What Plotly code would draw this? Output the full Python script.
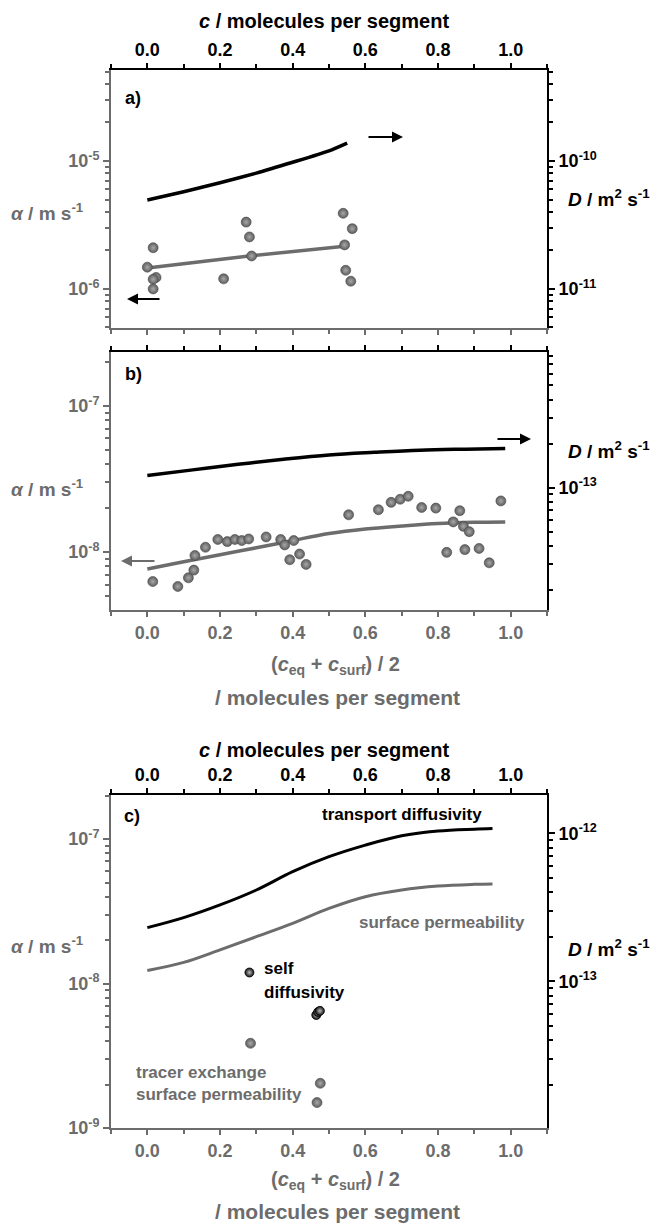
import math
import plotly.graph_objects as go

W, H = 659, 1225

# ---------------- data ----------------
# panel a
a_line_c = [0.0, 0.1, 0.2, 0.3, 0.4, 0.5, 0.55]
a_D = [4.95e-11, 5.75e-11, 6.76e-11, 8.04e-11, 9.77e-11, 1.20e-10, 1.38e-10]
a_fit_c = [0.0, 0.28, 0.55]
a_fit_alpha = [1.46e-6, 1.81e-6, 2.17e-6]
a_pts_c = [0.0, 0.016, 0.024, 0.016, 0.016, 0.21, 0.272, 0.281, 0.287,
           0.539, 0.564, 0.543, 0.546, 0.560]
a_pts_alpha = [1.48e-6, 2.10e-6, 1.23e-6, 1.19e-6, 1.00e-6, 1.20e-6, 3.33e-6,
               2.55e-6, 1.81e-6, 3.90e-6, 2.96e-6, 2.21e-6, 1.40e-6, 1.15e-6]

# panel b
b_line_c = [0.0, 0.125, 0.25, 0.375, 0.5, 0.625, 0.75, 0.875, 0.985]
b_D = [1.21e-13, 1.32e-13, 1.44e-13, 1.56e-13, 1.67e-13, 1.74e-13, 1.80e-13,
       1.83e-13, 1.85e-13]
b_fit_c = [0.0, 0.1, 0.2, 0.3, 0.4, 0.5, 0.6, 0.7, 0.8, 0.9, 0.985]
b_fit_alpha = [7.66e-9, 8.59e-9, 9.60e-9, 1.07e-8, 1.20e-8, 1.34e-8, 1.44e-8,
               1.51e-8, 1.57e-8, 1.60e-8, 1.61e-8]
b_pts_c = [0.015, 0.084, 0.113, 0.128, 0.131, 0.160, 0.194, 0.220, 0.241, 0.260,
           0.279, 0.327, 0.367, 0.378, 0.403, 0.392, 0.419, 0.437, 0.554, 0.636,
           0.671, 0.696, 0.718, 0.755, 0.794, 0.824, 0.842, 0.860, 0.870, 0.874,
           0.886, 0.913, 0.941, 0.973]
b_pts_alpha = [6.29e-9, 5.82e-9, 6.67e-9, 7.53e-9, 9.48e-9, 1.08e-8, 1.22e-8,
               1.18e-8, 1.22e-8, 1.20e-8, 1.23e-8, 1.27e-8, 1.22e-8, 1.12e-8,
               1.20e-8, 8.87e-9, 9.70e-9, 8.24e-9, 1.80e-8, 1.95e-8, 2.19e-8,
               2.30e-8, 2.41e-8, 2.02e-8, 2.00e-8, 9.96e-9, 1.61e-8, 1.92e-8,
               1.50e-8, 1.04e-8, 1.38e-8, 1.06e-8, 8.45e-9, 2.24e-8]

# panel c
c_line_c = [0.0, 0.1, 0.2, 0.3, 0.4, 0.5, 0.6, 0.7, 0.8, 0.9, 0.95]
c_transport_D = [2.31e-13, 2.70e-13, 3.29e-13, 4.15e-13, 5.52e-13, 6.97e-13,
                 8.35e-13, 9.66e-13, 1.04e-12, 1.07e-12, 1.08e-12]
c_surface_alpha = [1.23e-8, 1.40e-8, 1.71e-8, 2.11e-8, 2.61e-8, 3.31e-8,
                   3.99e-8, 4.44e-8, 4.73e-8, 4.86e-8, 4.89e-8]
c_self_c = [0.281, 0.465, 0.470, 0.475]
c_self_D = [1.15e-13, 5.94e-14, 6.22e-14, 6.33e-14]
c_tracer_c = [0.284, 0.476, 0.467]
c_tracer_alpha = [3.86e-9, 2.04e-9, 1.50e-9]

x_ticks = [0.0, 0.2, 0.4, 0.6, 0.8, 1.0]
x_ticktext = ["0.0", "0.2", "0.4", "0.6", "0.8", "1.0"]

# ---------------- style ----------------
FONT = "Liberation Sans, Arial, sans-serif"
GRAY = "#6c6c6c"
BLACK = "#000000"


def X(px):
    return px / W


def Y(py):
    return 1 - py / H


def log_minor(lo, hi):
    vals = []
    for e in range(int(math.floor(lo)) - 1, int(math.ceil(hi)) + 1):
        for k in range(2, 10):
            v = k * 10.0 ** e
            if lo - 1e-9 <= math.log10(v) <= hi + 1e-9:
                vals.append(v)
    return vals


def log_major(lo, hi):
    return [e for e in range(int(math.floor(lo)), int(math.ceil(hi)) + 1)
            if lo - 1e-9 <= e <= hi + 1e-9]


xdom = [X(111), X(547)]
panels = {
    "a": dict(top=70, bot=328, left=[-6.305, -4.289], right=[-11.305, -9.289]),
    "b": dict(top=352, bot=610, left=[-8.396, -6.631], right=[-13.838, -12.073]),
    "c": dict(top=795, bot=1128, left=[-9.0, -6.695], right=[-13.99, -11.74]),
}

fig = go.Figure()
layout = dict(width=W, height=H, margin=dict(l=0, r=0, t=0, b=0),
              paper_bgcolor="white", plot_bgcolor="white", showlegend=False)


def tickfont(color, size):
    return dict(family=FONT, size=size, color=color, weight="bold")


def yaxis_def(rng, dom, side, color, anchor, overlaying=None):
    majors = log_major(*rng)
    d = dict(type="log", range=rng, side=side, anchor=anchor,
             showline=True, linecolor=color, linewidth=2,
             ticks="outside", ticklen=6, tickwidth=2, tickcolor=color,
             tickvals=[10.0 ** e for e in majors],
             ticktext=["10<sup>%d</sup>" % e for e in majors],
             tickfont=tickfont(color, 18),
             minor=dict(tickvals=log_minor(*rng), ticks="outside", ticklen=4,
                        tickwidth=1.5, tickcolor=color, showgrid=False),
             showgrid=False, zeroline=False, automargin=False, fixedrange=True)
    if overlaying:
        d["overlaying"] = overlaying
    else:
        d["domain"] = dom
    return d


def xaxis_def(side, color, anchor, showlabels, overlaying=None):
    d = dict(range=[-0.1, 1.1], side=side, anchor=anchor, domain=xdom,
             showline=True, linecolor=color, linewidth=2,
             ticks="outside", ticklen=5, tickwidth=2, tickcolor=color,
             tickvals=x_ticks, ticktext=x_ticktext, showticklabels=showlabels,
             tickfont=tickfont(color, 18),
             minor=dict(tickvals=[-0.1, 0.1, 0.3, 0.5, 0.7, 0.9, 1.1],
                        ticks="outside", ticklen=4, tickwidth=1.5,
                        tickcolor=color, showgrid=False),
             showgrid=False, zeroline=False, automargin=False, fixedrange=True)
    if overlaying:
        d["overlaying"] = overlaying
    return d


# axis ids per panel: (x bottom, y left, y right, x top)
ids = {"a": (1, 1, 2, 2), "b": (3, 3, 4, 4), "c": (5, 5, 6, 6)}
top_labels = {"a": True, "b": False, "c": True}
bot_labels = {"a": False, "b": True, "c": True}

for key, (xb, yl, yr, xt) in ids.items():
    p = panels[key]
    dom = [Y(p["bot"]), Y(p["top"])]
    xbn = "x" if xb == 1 else "x%d" % xb
    yln = "y" if yl == 1 else "y%d" % yl
    layout["xaxis" if xb == 1 else "xaxis%d" % xb] = xaxis_def(
        "bottom", GRAY, yln, bot_labels[key])
    layout["xaxis%d" % xt] = xaxis_def(
        "top", BLACK, yln, top_labels[key], overlaying=xbn)
    layout["yaxis" if yl == 1 else "yaxis%d" % yl] = yaxis_def(
        p["left"], dom, "left", GRAY, xbn)
    layout["yaxis%d" % yr] = yaxis_def(
        p["right"], dom, "right", BLACK, xbn, overlaying=yln)
    # empty trace so the top axis is drawn
    fig.add_trace(go.Scatter(x=[None], y=[None], xaxis="x%d" % xt, yaxis=yln,
                             mode="markers", hoverinfo="skip"))

gray_marker = dict(size=10, color="#5e5e5e", line=dict(width=0.6, color="#4a4a4a"),
                   gradient=dict(type="radial", color="#a8a8a8"))
black_marker = dict(size=9, color="#111111", line=dict(width=0.8, color="#000"),
                    gradient=dict(type="radial", color="#bdbdbd"))

# panel a
fig.add_trace(go.Scatter(x=a_line_c, y=a_D, xaxis="x", yaxis="y2", mode="lines",
                         line=dict(color=BLACK, width=3.5, shape="spline",
                                   smoothing=0.6)))
fig.add_trace(go.Scatter(x=a_fit_c, y=a_fit_alpha, xaxis="x", yaxis="y", mode="lines",
                         line=dict(color=GRAY, width=3.5)))
fig.add_trace(go.Scatter(x=a_pts_c, y=a_pts_alpha, xaxis="x", yaxis="y",
                         mode="markers", marker=gray_marker))
# panel b
fig.add_trace(go.Scatter(x=b_line_c, y=b_D, xaxis="x3", yaxis="y4", mode="lines",
                         line=dict(color=BLACK, width=3.5), line_shape="spline"))
fig.add_trace(go.Scatter(x=b_fit_c, y=b_fit_alpha, xaxis="x3", yaxis="y3", mode="lines",
                         line=dict(color=GRAY, width=3.5), line_shape="spline"))
fig.add_trace(go.Scatter(x=b_pts_c, y=b_pts_alpha, xaxis="x3", yaxis="y3",
                         mode="markers", marker=gray_marker))
# panel c
fig.add_trace(go.Scatter(x=c_line_c, y=c_transport_D, xaxis="x5", yaxis="y6",
                         mode="lines", line=dict(color=BLACK, width=3),
                         line_shape="spline"))
fig.add_trace(go.Scatter(x=c_line_c, y=c_surface_alpha, xaxis="x5", yaxis="y5",
                         mode="lines", line=dict(color=GRAY, width=3),
                         line_shape="spline"))
fig.add_trace(go.Scatter(x=c_tracer_c, y=c_tracer_alpha, xaxis="x5", yaxis="y5",
                         mode="markers", marker=gray_marker))
fig.add_trace(go.Scatter(x=c_self_c, y=c_self_D, xaxis="x5", yaxis="y6",
                         mode="markers", marker=black_marker))

ann = []


def text(px, py, s, color, size=20, xanchor="center"):
    ann.append(dict(x=X(px), y=Y(py), xref="paper", yref="paper", text=s,
                    showarrow=False, xanchor=xanchor, yanchor="middle",
                    font=dict(family=FONT, size=size, color=color, weight="bold")))


def arrow(hx, hy, tx, color):
    ann.append(dict(x=X(hx), y=Y(hy), xref="paper", yref="paper", text="",
                    showarrow=True, arrowhead=2, arrowsize=1.1, arrowwidth=2,
                    arrowcolor=color, ax=tx - hx, ay=0))


alpha_title = "<i>α</i> / m s<sup>-1</sup>"
D_title = "<i>D</i> / m<sup>2</sup> s<sup>-1</sup>"
c_title = "<i>c</i> / molecules per segment"
avg_title1 = "(<i>c</i><sub>eq</sub> + <i>c</i><sub>surf</sub>) / 2"
avg_title2 = "/ molecules per segment"

# panel a
text(324, 21, c_title, BLACK, 20)
text(47, 212, alpha_title, GRAY, 19)
text(566, 198, D_title, BLACK, 19, "left")
text(123, 98, "a)", BLACK, 18, "left")
arrow(403, 137, 367, BLACK)
arrow(127, 299, 161, BLACK)
# panel b
text(47, 488, alpha_title, GRAY, 19)
text(566, 450, D_title, BLACK, 19, "left")
text(123, 374, "b)", BLACK, 18, "left")
arrow(531, 439, 496, BLACK)
arrow(121, 561, 156, GRAY)
text(335, 665, avg_title1, GRAY, 20)
text(337, 697, avg_title2, GRAY, 21)
# panel c
text(324, 750, c_title, BLACK, 20)
text(47, 945, alpha_title, GRAY, 19)
text(566, 948, D_title, BLACK, 19, "left")
text(122, 816, "c)", BLACK, 18, "left")
text(402, 814, "transport diffusivity", BLACK, 17)
text(442, 922, "surface permeability", GRAY, 17)
text(262, 968, "self", BLACK, 17, "left")
text(262, 992, "diffusivity", BLACK, 17, "left")
text(134, 1072, "tracer exchange", GRAY, 17, "left")
text(134, 1094, "surface permeability", GRAY, 17, "left")
text(335, 1180, avg_title1, GRAY, 20)
text(337, 1211, avg_title2, GRAY, 21)

layout["annotations"] = ann
fig.update_layout(**layout)
fig.write_html("out.html", config={"displayModeBar": False},
               post_script="document.body.style.margin='0px';"
                           "document.body.style.overflow='hidden';")
